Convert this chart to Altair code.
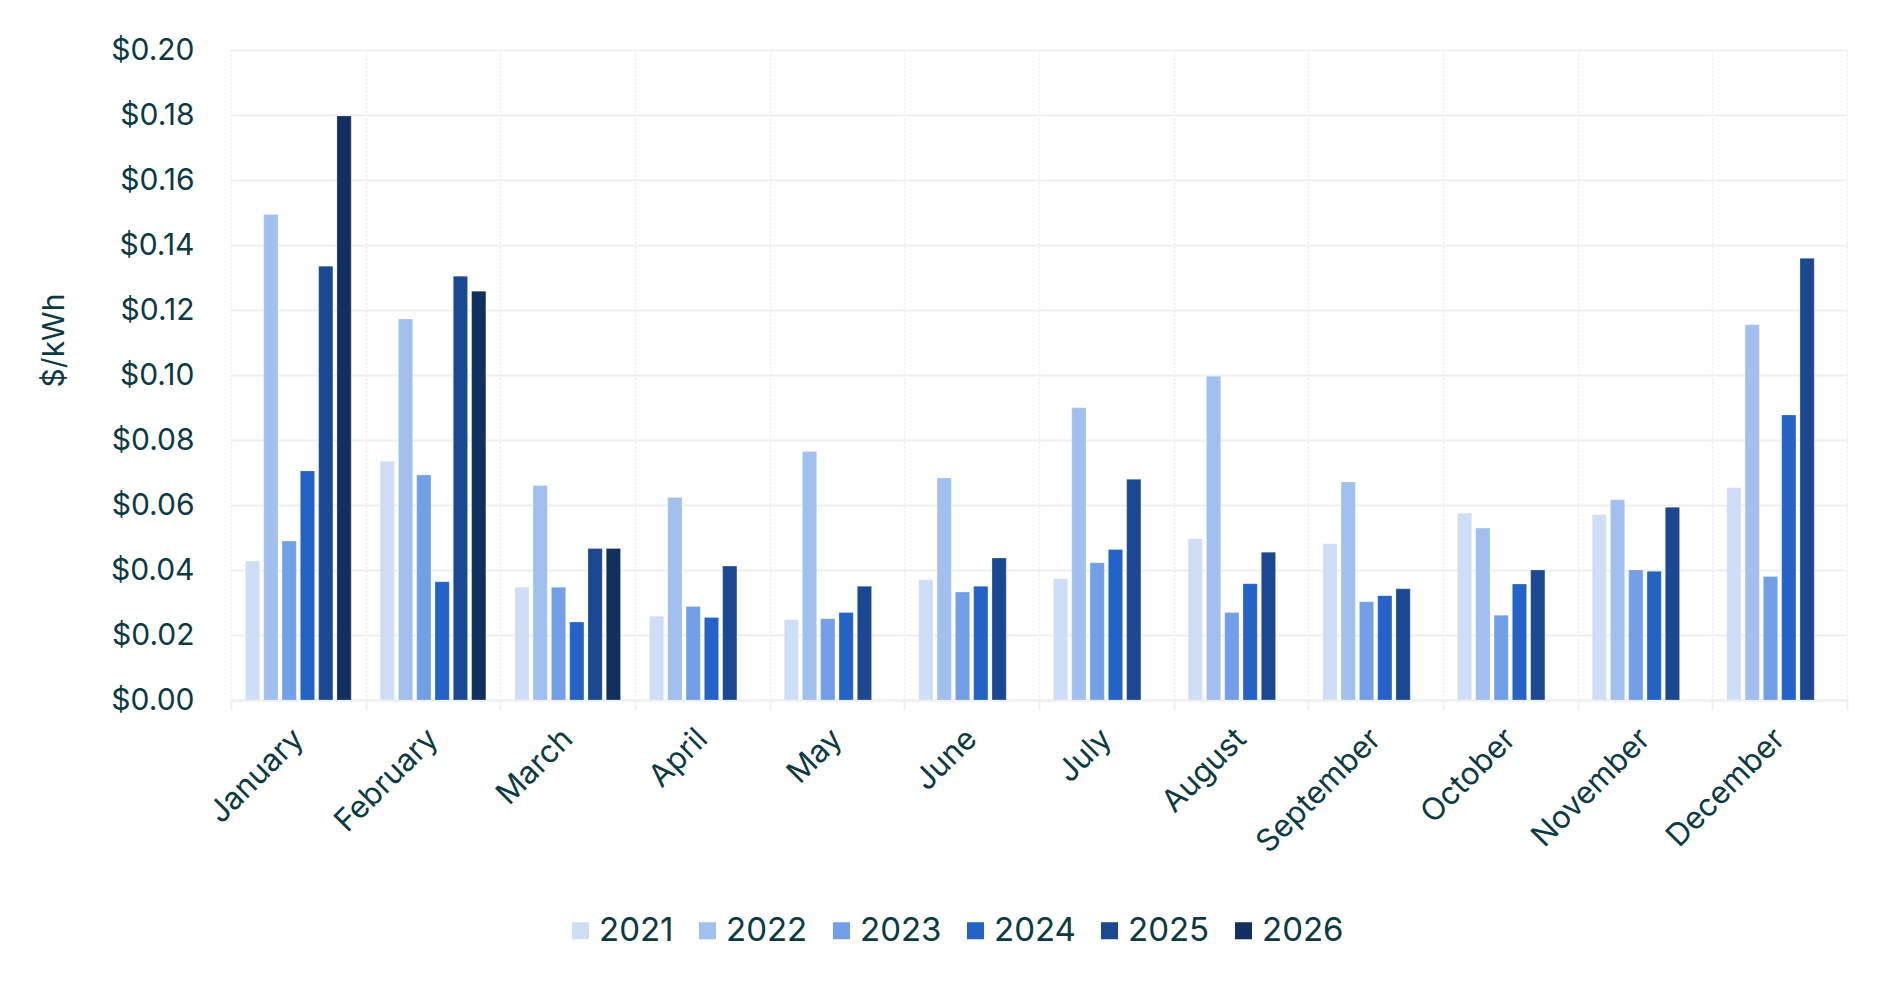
import altair as alt
import pandas as pd

months = ["January", "February", "March", "April", "May", "June", "July",
          "August", "September", "October", "November", "December"]
years = ["2021", "2022", "2023", "2024", "2025", "2026"]

v2021 = [0.0428, 0.0735, 0.0347, 0.0258, 0.0248, 0.0370, 0.0373, 0.0496, 0.0481, 0.0575, 0.0571, 0.0653]
v2022 = [0.1494, 0.1172, 0.0660, 0.0623, 0.0765, 0.0683, 0.0899, 0.0996, 0.0671, 0.0529, 0.0616, 0.1155]
v2023 = [0.0489, 0.0692, 0.0347, 0.0288, 0.0250, 0.0332, 0.0422, 0.0269, 0.0302, 0.0261, 0.0400, 0.0380]
v2024 = [0.0705, 0.0364, 0.0240, 0.0254, 0.0269, 0.0350, 0.0463, 0.0358, 0.0321, 0.0357, 0.0396, 0.0877]
v2025 = [0.1335, 0.1304, 0.0466, 0.0412, 0.0350, 0.0437, 0.0679, 0.0455, 0.0342, 0.0400, 0.0593, 0.1359]
v2026 = [0.1797, 0.1258, 0.0466, None, None, None, None, None, None, None, None, None]

colors = ["#cfdef7", "#a1bfef", "#719fe8", "#2362c7", "#1a4893", "#112f60"]
y_ticks = [0.0, 0.02, 0.04, 0.06, 0.08, 0.10, 0.12, 0.14, 0.16, 0.18, 0.20]

series = [v2021, v2022, v2023, v2024, v2025, v2026]
rows = []
for yr, vals in zip(years, series):
    for m, v in zip(months, vals):
        if v is not None:
            rows.append({"month": m, "year": yr, "value": v})
df = pd.DataFrame(rows)

TEXT = "#0b3a43"
GRID = "#efefef"
FONT = "Inter"

chart = alt.Chart(df).mark_bar(
    stroke="white", strokeOpacity=0.25, strokeWidth=1
).encode(
    x=alt.X("month:N", sort=months,
            scale=alt.Scale(paddingInner=0, paddingOuter=0),
            axis=alt.Axis(title=None, labelAngle=-45, labelAlign="right",
                          labelBaseline="middle", labelFontSize=31,
                          labelPadding=24, labelColor=TEXT, labelFont=FONT,
                          tickBand="extent", ticks=True, tickSize=10,
                          tickColor=GRID, tickWidth=2,
                          domainColor=GRID, domainWidth=2,
                          grid=True, gridColor="#ebebeb", gridDash=[2, 2],
                          gridWidth=1.5)),
    xOffset=alt.XOffset("year:N", sort=years,
                        scale=alt.Scale(domain=years, paddingInner=0.22,
                                        paddingOuter=0.79)),
    y=alt.Y("value:Q",
            scale=alt.Scale(domain=[0, 0.2], nice=False),
            axis=alt.Axis(title="$/kWh", values=y_ticks, format="$.2f",
                          labelFontSize=30, labelColor=TEXT, labelFont=FONT,
                          labelPadding=37, ticks=False, domain=False,
                          gridColor=GRID, gridWidth=2,
                          titleFontSize=30, titleColor=TEXT, titleFont=FONT,
                          titleFontWeight="normal", titleAngle=-90,
                          titleX=-177, titleY=290, titleAlign="center",
                          titleBaseline="middle")),
    color=alt.Color("year:N", sort=years,
                    scale=alt.Scale(domain=years, range=colors),
                    legend=alt.Legend(title=None, orient="none",
                                      direction="horizontal",
                                      legendX=333, legendY=864,
                                      symbolType="square", symbolSize=290,
                                      symbolStrokeWidth=0,
                                      labelFontSize=33, labelColor=TEXT,
                                      labelFont=FONT, labelOffset=2,
                                      columnPadding=17, padding=0)),
).properties(
    width=1616, height=650,
    autosize=alt.AutoSizeParams(type="none"),
    padding={"left": 223, "top": 42, "right": 40, "bottom": 250},
).configure_view(stroke=None)

chart.save("out.html", embed_options={"renderer": "svg", "actions": False})
